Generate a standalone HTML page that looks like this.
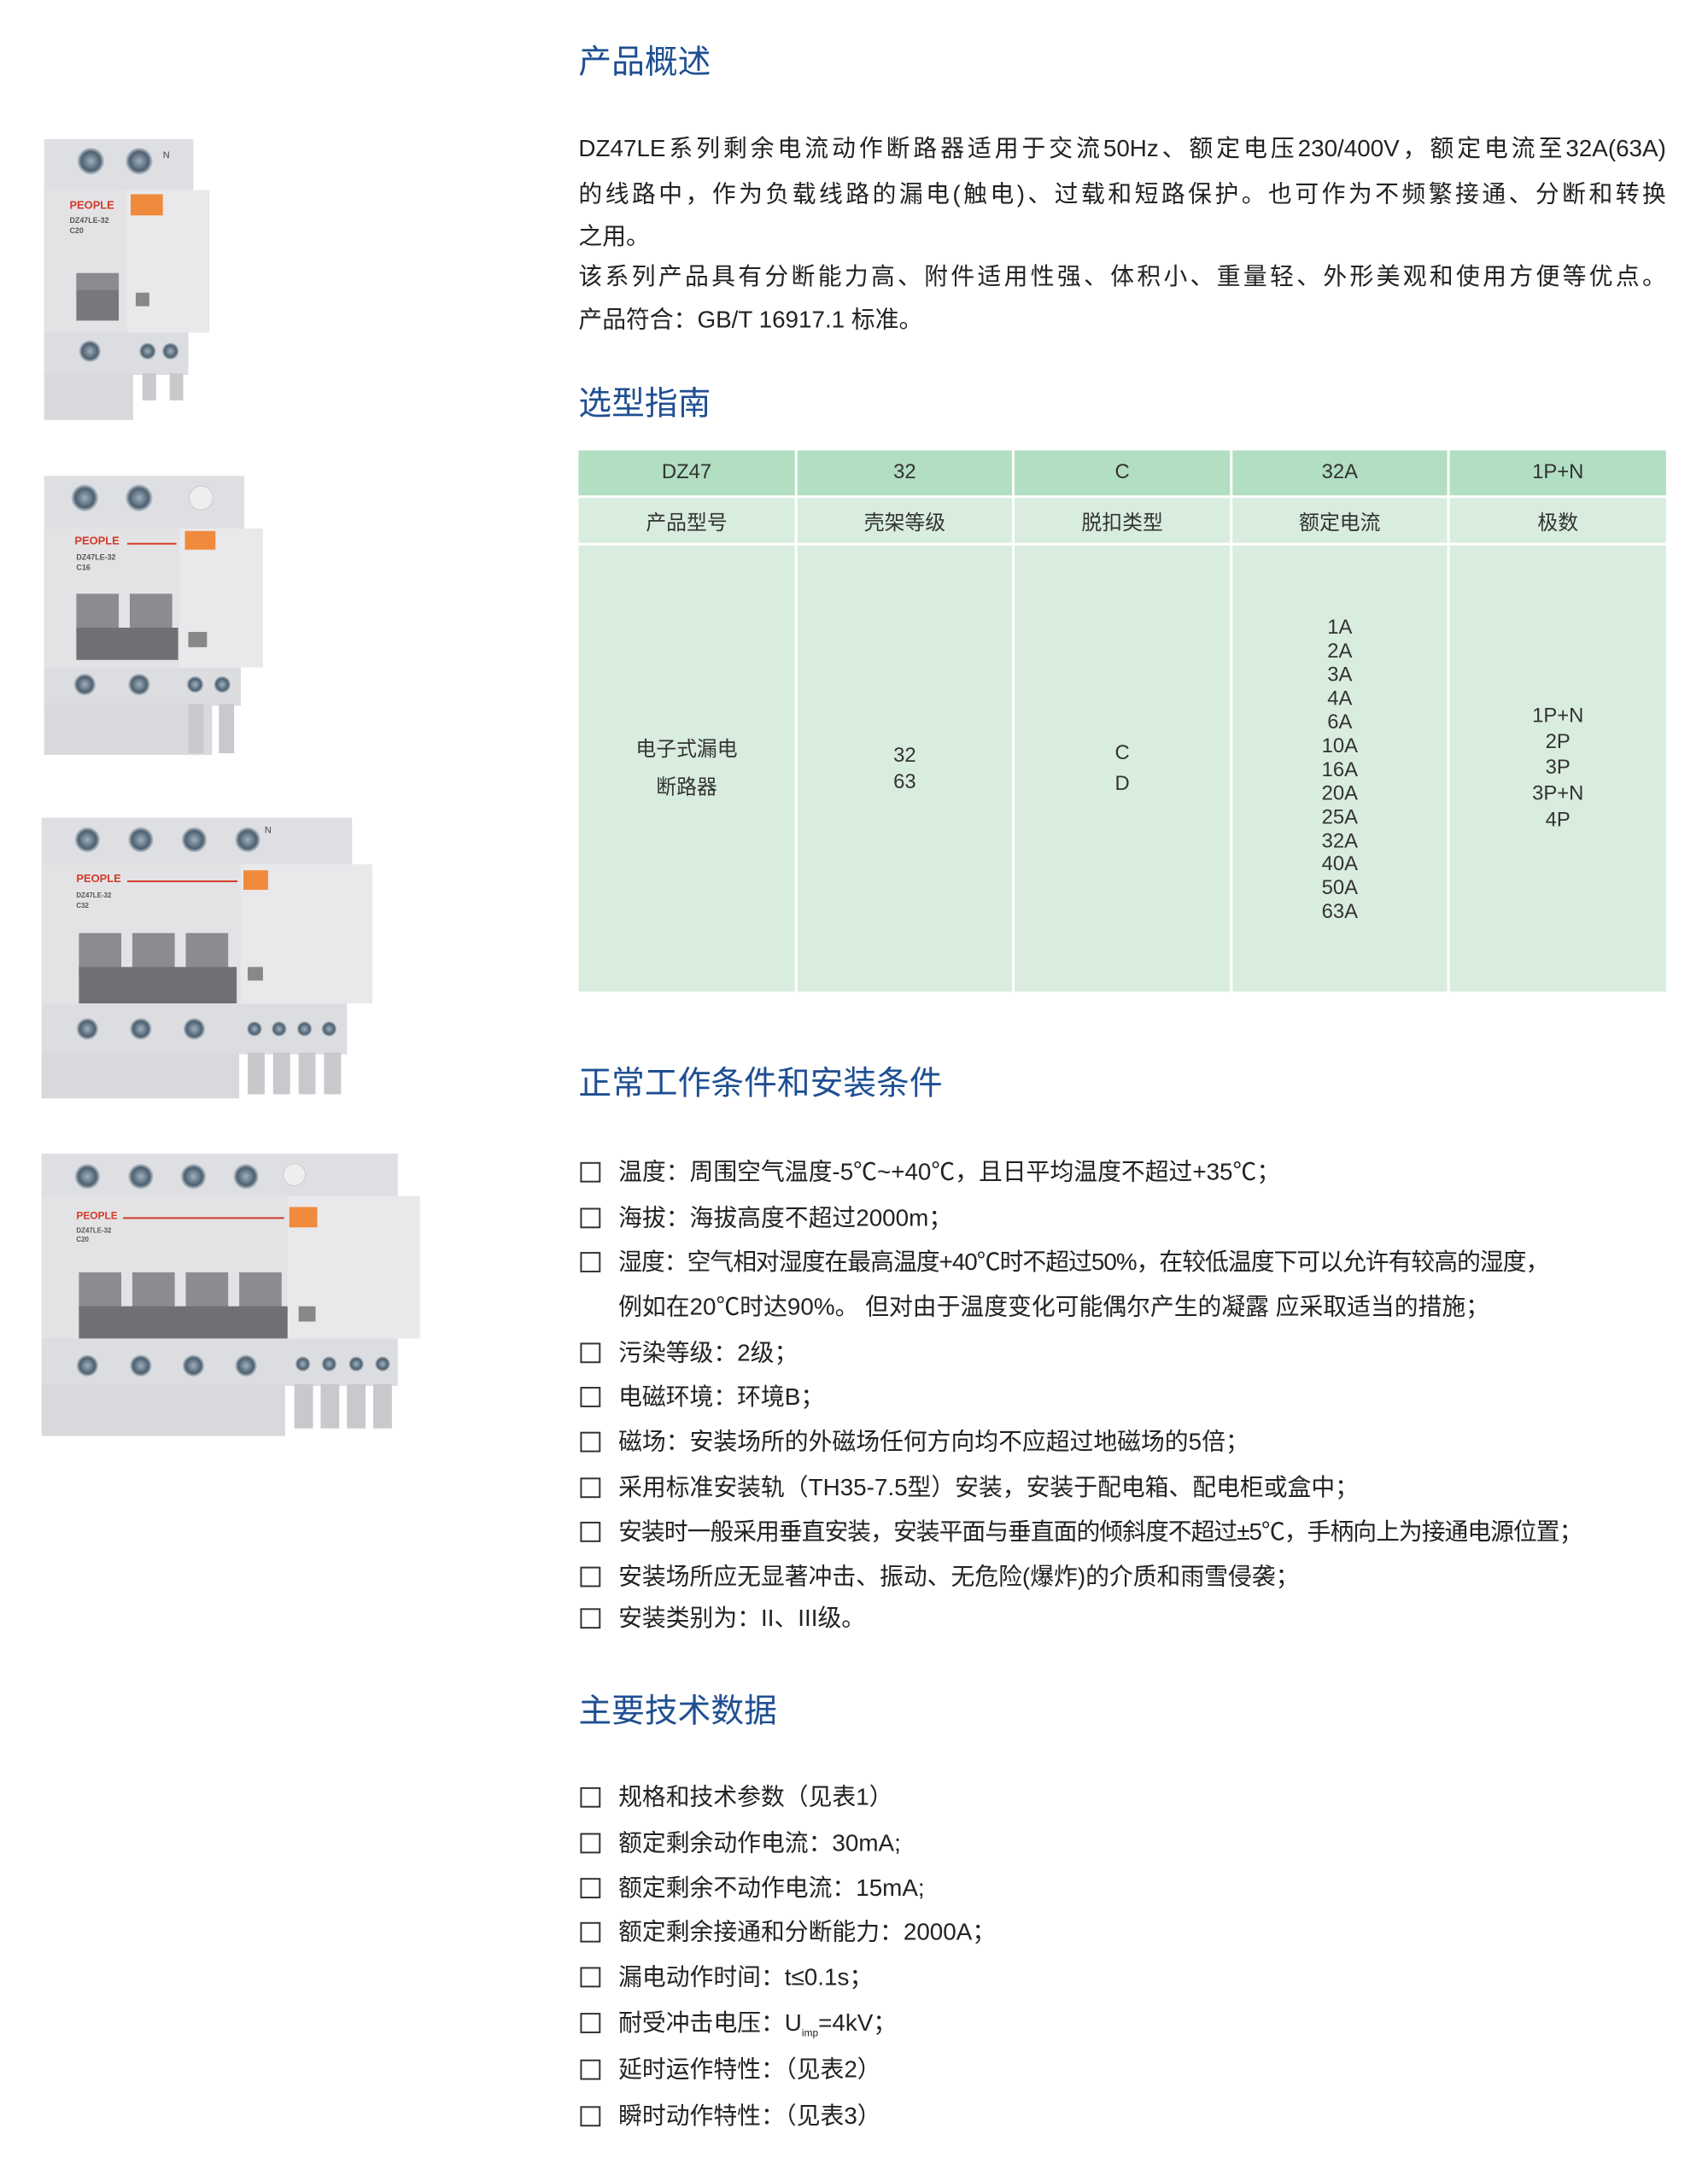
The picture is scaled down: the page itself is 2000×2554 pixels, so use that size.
<!DOCTYPE html>
<html><head><meta charset="utf-8">
<style>
*{margin:0;padding:0;box-sizing:border-box}
body{width:2000px;height:2554px;background:#fff;position:relative;overflow:hidden;font-family:"Liberation Sans","Noto Sans CJK SC",sans-serif;color:#222}
#w{position:absolute;left:0;top:0;width:2014px;height:2571px;transform:scale(0.9933);transform-origin:0 0}
.a{position:absolute;white-space:nowrap}
.h{font-size:39px;color:#1f4f92;line-height:1}
.p{font-size:28px;line-height:1;left:682px}
.j{width:1282px;text-align:justify;text-align-last:justify;white-space:normal}
.cb{position:absolute;left:684px;width:24px;height:24px;border:2px solid #333}
.li{position:absolute;left:729px;font-size:28px;line-height:1;white-space:nowrap}
table{position:absolute;left:682px;top:531px;width:1282px;border-collapse:collapse}
td{border:3px solid #fff;text-align:center;font-size:24px;color:#333;vertical-align:middle;width:256px}
tr.r1 td{background:#b2dec2;height:54px;border-top:none}
tr.r2 td{background:#d9eddf;height:56px}
tr.r3 td{background:#d9eddf;height:528px;line-height:28px;border-bottom:none}
tr td:first-child{border-left:none}
tr td:last-child{border-right:none}
</style></head><body><div id="w">

<svg class="a" style="left:0;top:0" width="650" height="1750" viewBox="0 0 650 1750">
<defs>
<radialGradient id="sc" cx="50%" cy="50%" r="50%"><stop offset="0" stop-color="#9fb0bd"/><stop offset="0.7" stop-color="#4d6070"/><stop offset="1" stop-color="#cfd3d8"/></radialGradient>
</defs>
<rect x="52" y="164" width="176" height="66" fill="#dedfe2"/>
<circle cx="107" cy="190" r="16" fill="url(#sc)"/><circle cx="164" cy="190" r="16" fill="url(#sc)"/>
<text x="192" y="186" font-size="11" fill="#444">N</text>
<rect x="52" y="224" width="195" height="168" fill="#e9e9eb"/>
<rect x="52" y="224" width="98" height="168" fill="#e3e3e5"/>
<text x="82" y="246" font-size="13" font-weight="bold" fill="#d23a2a">PEOPLE</text>
<text x="82" y="263" font-size="9" font-weight="bold" fill="#555">DZ47LE-32</text>
<text x="82" y="275" font-size="9" font-weight="bold" fill="#555">C20</text>
<rect x="154" y="229" width="38" height="25" fill="#f08a3c"/>
<rect x="90" y="322" width="50" height="56" fill="#77787b"/><rect x="90" y="322" width="50" height="20" fill="#8b8c8f"/>
<rect x="160" y="345" width="16" height="16" fill="#888"/>
<rect x="52" y="392" width="170" height="50" fill="#dcdde0"/>
<circle cx="106" cy="414" r="13" fill="url(#sc)"/><circle cx="174" cy="414" r="10" fill="url(#sc)"/><circle cx="201" cy="414" r="10" fill="url(#sc)"/>
<rect x="52" y="440" width="105" height="55" fill="#d8d9dc"/>
<rect x="168" y="440" width="16" height="32" fill="#c8c9cc"/><rect x="200" y="440" width="16" height="32" fill="#c8c9cc"/>
<rect x="52" y="561" width="236" height="64" fill="#dedfe2"/>
<circle cx="100" cy="587" r="16" fill="url(#sc)"/><circle cx="164" cy="587" r="16" fill="url(#sc)"/><circle cx="237" cy="587" r="14" fill="#eee" stroke="#ccc"/>
<rect x="52" y="623" width="258" height="164" fill="#e9e9eb"/>
<rect x="52" y="623" width="160" height="164" fill="#e3e3e5"/>
<text x="88" y="642" font-size="13" font-weight="bold" fill="#d23a2a">PEOPLE</text>
<rect x="150" y="640" width="58" height="2" fill="#d23a2a"/>
<text x="90" y="660" font-size="9" font-weight="bold" fill="#555">DZ47LE-32</text>
<text x="90" y="672" font-size="9" font-weight="bold" fill="#555">C16</text>
<rect x="218" y="626" width="36" height="22" fill="#f08a3c"/>
<rect x="90" y="700" width="50" height="50" fill="#8b8c8f"/><rect x="153" y="700" width="50" height="50" fill="#8b8c8f"/>
<rect x="90" y="740" width="120" height="38" fill="#6f7073"/>
<rect x="222" y="745" width="22" height="18" fill="#888"/>
<rect x="52" y="787" width="232" height="45" fill="#dcdde0"/>
<circle cx="100" cy="807" r="13" fill="url(#sc)"/><circle cx="164" cy="807" r="13" fill="url(#sc)"/><circle cx="230" cy="807" r="10" fill="url(#sc)"/><circle cx="262" cy="807" r="10" fill="url(#sc)"/>
<rect x="52" y="830" width="198" height="60" fill="#d8d9dc"/>
<rect x="222" y="830" width="18" height="58" fill="#c8c9cc"/><rect x="258" y="830" width="18" height="58" fill="#c8c9cc"/>
<rect x="49" y="964" width="366" height="56" fill="#dedfe2"/>
<circle cx="103" cy="990" r="15" fill="url(#sc)"/><circle cx="166" cy="990" r="15" fill="url(#sc)"/><circle cx="229" cy="990" r="15" fill="url(#sc)"/><circle cx="292" cy="990" r="15" fill="url(#sc)"/>
<text x="312" y="982" font-size="11" fill="#444">N</text>
<rect x="49" y="1019" width="390" height="164" fill="#e9e9eb"/>
<rect x="49" y="1019" width="235" height="164" fill="#e3e3e5"/>
<text x="90" y="1040" font-size="13" font-weight="bold" fill="#d23a2a">PEOPLE</text>
<rect x="150" y="1038" width="130" height="2" fill="#d23a2a"/>
<text x="90" y="1058" font-size="8" font-weight="bold" fill="#555">DZ47LE-32</text>
<text x="90" y="1070" font-size="8" font-weight="bold" fill="#555">C32</text>
<rect x="287" y="1026" width="29" height="23" fill="#f08a3c"/>
<rect x="93" y="1100" width="50" height="50" fill="#8b8c8f"/><rect x="156" y="1100" width="50" height="50" fill="#8b8c8f"/><rect x="219" y="1100" width="50" height="50" fill="#8b8c8f"/>
<rect x="93" y="1140" width="186" height="43" fill="#6f7073"/>
<rect x="292" y="1140" width="18" height="16" fill="#888"/>
<rect x="49" y="1183" width="360" height="60" fill="#dcdde0"/>
<circle cx="103" cy="1213" r="13" fill="url(#sc)"/><circle cx="166" cy="1213" r="13" fill="url(#sc)"/><circle cx="229" cy="1213" r="13" fill="url(#sc)"/>
<circle cx="300" cy="1213" r="9" fill="url(#sc)"/><circle cx="329" cy="1213" r="9" fill="url(#sc)"/><circle cx="359" cy="1213" r="9" fill="url(#sc)"/><circle cx="388" cy="1213" r="9" fill="url(#sc)"/>
<rect x="49" y="1241" width="233" height="54" fill="#d8d9dc"/>
<rect x="292" y="1241" width="20" height="49" fill="#c8c9cc"/><rect x="322" y="1241" width="20" height="49" fill="#c8c9cc"/><rect x="352" y="1241" width="20" height="49" fill="#c8c9cc"/><rect x="382" y="1241" width="20" height="49" fill="#c8c9cc"/>
<rect x="49" y="1360" width="420" height="58" fill="#dedfe2"/>
<circle cx="103" cy="1387" r="15" fill="url(#sc)"/><circle cx="166" cy="1387" r="15" fill="url(#sc)"/><circle cx="228" cy="1387" r="15" fill="url(#sc)"/><circle cx="290" cy="1387" r="15" fill="url(#sc)"/><circle cx="347" cy="1385" r="13" fill="#eee" stroke="#ccc"/>
<rect x="49" y="1410" width="446" height="168" fill="#e9e9eb"/>
<rect x="49" y="1410" width="290" height="168" fill="#e3e3e5"/>
<text x="90" y="1437" font-size="12" font-weight="bold" fill="#d23a2a">PEOPLE</text>
<rect x="145" y="1435" width="190" height="2" fill="#d23a2a"/>
<text x="90" y="1453" font-size="8" font-weight="bold" fill="#555">DZ47LE-32</text>
<text x="90" y="1464" font-size="8" font-weight="bold" fill="#555">C20</text>
<rect x="341" y="1423" width="33" height="24" fill="#f08a3c"/>
<rect x="93" y="1500" width="50" height="50" fill="#8b8c8f"/><rect x="156" y="1500" width="50" height="50" fill="#8b8c8f"/><rect x="219" y="1500" width="50" height="50" fill="#8b8c8f"/><rect x="282" y="1500" width="50" height="50" fill="#8b8c8f"/>
<rect x="93" y="1540" width="246" height="38" fill="#6f7073"/>
<rect x="352" y="1540" width="20" height="18" fill="#888"/>
<rect x="49" y="1578" width="420" height="56" fill="#dcdde0"/>
<circle cx="103" cy="1610" r="13" fill="url(#sc)"/><circle cx="166" cy="1610" r="13" fill="url(#sc)"/><circle cx="228" cy="1610" r="13" fill="url(#sc)"/><circle cx="290" cy="1610" r="13" fill="url(#sc)"/>
<circle cx="357" cy="1608" r="9" fill="url(#sc)"/><circle cx="388" cy="1608" r="9" fill="url(#sc)"/><circle cx="420" cy="1608" r="9" fill="url(#sc)"/><circle cx="451" cy="1608" r="9" fill="url(#sc)"/>
<rect x="49" y="1632" width="287" height="61" fill="#d8d9dc"/>
<rect x="347" y="1632" width="22" height="52" fill="#c8c9cc"/><rect x="378" y="1632" width="22" height="52" fill="#c8c9cc"/><rect x="409" y="1632" width="22" height="52" fill="#c8c9cc"/><rect x="440" y="1632" width="22" height="52" fill="#c8c9cc"/>
</svg>

<div class="a h" style="left:682px;top:54px">产品概述</div>
<div class="a p j" style="top:161px">DZ47LE系列剩余电流动作断路器适用于交流50Hz、额定电压230/400V，额定电流至32A(63A)</div>
<div class="a p j" style="top:215px">的线路中，作为负载线路的漏电(触电)、过载和短路保护。也可作为不频繁接通、分断和转换</div>
<div class="a p" style="top:265px">之用。</div>
<div class="a p j" style="top:312px">该系列产品具有分断能力高、附件适用性强、体积小、重量轻、外形美观和使用方便等优点。</div>
<div class="a p" style="top:363px">产品符合：GB/T 16917.1 标准。</div>

<div class="a h" style="left:682px;top:457px">选型指南</div>
<table>
<tr class="r1"><td>DZ47</td><td>32</td><td>C</td><td>32A</td><td>1P+N</td></tr>
<tr class="r2"><td>产品型号</td><td>壳架等级</td><td>脱扣类型</td><td>额定电流</td><td>极数</td></tr>
<tr class="r3"><td style="line-height:45px">电子式漏电<br>断路器</td><td style="line-height:31px">32<br>63</td><td style="line-height:36px">C<br>D</td><td style="line-height:27.9px;padding-top:4px">1A<br>2A<br>3A<br>4A<br>6A<br>10A<br>16A<br>20A<br>25A<br>32A<br>40A<br>50A<br>63A</td><td style="line-height:30.7px">1P+N<br>2P<br>3P<br>3P+N<br>4P</td></tr>
</table>

<div class="a h" style="left:682px;top:1258px">正常工作条件和安装条件</div>
<div class="cb" style="top:1370px"></div><div class="li" style="top:1368px">温度：周围空气温度-5℃~+40℃，且日平均温度不超过+35℃；</div>
<div class="cb" style="top:1424px"></div><div class="li" style="top:1422px">海拔：海拔高度不超过2000m；</div>
<div class="cb" style="top:1476px"></div><div class="li" style="top:1474px;letter-spacing:-1px">湿度：空气相对湿度在最高温度+40℃时不超过50%，在较低温度下可以允许有较高的湿度，</div>
<div class="li" style="top:1527px">例如在20℃时达90%。 但对由于温度变化可能偶尔产生的凝露 应采取适当的措施；</div>
<div class="cb" style="top:1583px"></div><div class="li" style="top:1581px">污染等级：2级；</div>
<div class="cb" style="top:1635px"></div><div class="li" style="top:1633px">电磁环境：环境B；</div>
<div class="cb" style="top:1688px"></div><div class="li" style="top:1686px">磁场：安装场所的外磁场任何方向均不应超过地磁场的5倍；</div>
<div class="cb" style="top:1742px"></div><div class="li" style="top:1740px">采用标准安装轨（TH35-7.5型）安装，安装于配电箱、配电柜或盒中；</div>
<div class="cb" style="top:1794px"></div><div class="li" style="top:1792px;letter-spacing:-1px">安装时一般采用垂直安装，安装平面与垂直面的倾斜度不超过±5℃，手柄向上为接通电源位置；</div>
<div class="cb" style="top:1847px"></div><div class="li" style="top:1845px">安装场所应无显著冲击、振动、无危险(爆炸)的介质和雨雪侵袭；</div>
<div class="cb" style="top:1896px"></div><div class="li" style="top:1894px">安装类别为：II、III级。</div>

<div class="a h" style="left:682px;top:1998px">主要技术数据</div>
<div class="cb" style="top:2107px"></div><div class="li" style="top:2105px">规格和技术参数（见表1）</div>
<div class="cb" style="top:2161px"></div><div class="li" style="top:2159px">额定剩余动作电流：30mA;</div>
<div class="cb" style="top:2214px"></div><div class="li" style="top:2212px">额定剩余不动作电流：15mA;</div>
<div class="cb" style="top:2266px"></div><div class="li" style="top:2264px">额定剩余接通和分断能力：2000A；</div>
<div class="cb" style="top:2319px"></div><div class="li" style="top:2317px">漏电动作时间：t≤0.1s；</div>
<div class="cb" style="top:2373px"></div><div class="li" style="top:2371px">耐受冲击电压：U<sub style="font-size:12px">imp</sub>=4kV；</div>
<div class="cb" style="top:2428px"></div><div class="li" style="top:2426px">延时运作特性：（见表2）</div>
<div class="cb" style="top:2483px"></div><div class="li" style="top:2481px">瞬时动作特性：（见表3）</div>
</div></body></html>
